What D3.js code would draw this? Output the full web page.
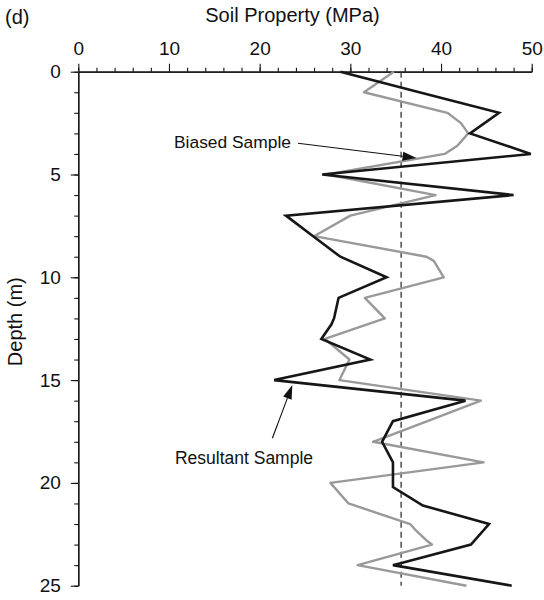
<!DOCTYPE html>
<html>
<head>
<meta charset="utf-8">
<script src="https://cdn.jsdelivr.net/npm/d3@7"></script>
<style>
  html, body { margin: 0; padding: 0; background: #fff; }
  svg { display: block; font-family: "Liberation Sans", Arial, Helvetica, sans-serif; }
</style>
</head>
<body>
<svg id="chart" width="544" height="600"></svg>
<script>
// Resultant sample profile (black): depth (m) and soil property (MPa)
const resultantDepth = [0, 1, 2, 3, 4, 5, 6, 7, 8, 9, 10, 11, 12, 12.3, 13, 14, 15, 16, 17, 18, 19, 20.2, 21.1, 22, 23, 24, 25];
const resultantValue = [28.9, 37.6, 46.4, 43.2, 49.9, 26.9, 48.0, 22.9, 25.9, 28.9, 34.0, 28.7, 28.2, 27.9, 26.8, 32.2, 21.6, 42.7, 34.7, 33.5, 34.7, 34.7, 38.0, 45.3, 43.3, 34.7, 47.8];

// Biased sample profile (grey)
const biasedDepth = [0, 1, 2, 2.5, 3, 3.6, 4, 5, 6, 7, 8, 9, 9.2, 10, 11, 12, 13, 14, 15, 16, 17, 18, 19, 20, 21, 22, 22.3, 22.8, 23, 24, 25];
const biasedValue = [34.8, 31.5, 40.7, 42.2, 43.0, 41.8, 40.4, 27.4, 39.4, 30.0, 26.0, 38.4, 39.2, 40.3, 31.6, 33.8, 27.2, 29.9, 28.8, 44.4, 38.5, 32.5, 44.7, 27.8, 29.8, 36.6, 37.2, 38.4, 39.0, 30.8, 42.8];

// Reference value drawn as the dashed vertical line
const referenceValue = 35.6;

// Axis ticks
const xMajorTicks = [0, 10, 20, 30, 40, 50];
const xMinorTicks = d3.range(0, 51, 2);
const yMajorTicks = [0, 5, 10, 15, 20, 25];
const yMinorTicks = d3.range(0, 26, 1);

const svg = d3.select("#chart");

const x = d3.scaleLinear().domain([0, 50]).range([78.3, 531.7]);
const y = d3.scaleLinear().domain([0, 25]).range([71.7, 585.7]);

// ---- axes ----
const xMinor = d3.axisTop(x).tickValues(xMinorTicks).tickSize(4).tickSizeOuter(0).tickFormat("");
const xMajor = d3.axisTop(x).tickValues(xMajorTicks).tickSize(8).tickSizeOuter(0).tickPadding(8.7).tickFormat(d3.format("d"));
const yMinor = d3.axisLeft(y).tickValues(yMinorTicks).tickSize(4).tickSizeOuter(0).tickFormat("");
const yMajor = d3.axisLeft(y).tickValues(yMajorTicks).tickSize(7.5).tickSizeOuter(0).tickPadding(10).tickFormat(d3.format("d"));

function styleAxis(g) {
  g.selectAll("path.domain").attr("stroke", "#111").attr("stroke-width", 1.2);
  g.selectAll(".tick line").attr("stroke", "#111").attr("stroke-width", 1.1);
  g.selectAll(".tick text").attr("fill", "#111").style("font-size", "19px")
    .style("font-family", "'Liberation Sans', Arial, sans-serif");
}

svg.append("g").attr("transform", `translate(0,${y(0)})`).call(xMinor).call(styleAxis);
svg.append("g").attr("transform", `translate(0,${y(0)})`).call(xMajor).call(styleAxis);
svg.append("g").attr("transform", `translate(${x(0)},0)`).call(yMinor).call(styleAxis);
svg.append("g").attr("transform", `translate(${x(0)},0)`).call(yMajor).call(styleAxis);

// ---- reference line ----
svg.append("line")
  .attr("x1", x(referenceValue)).attr("x2", x(referenceValue))
  .attr("y1", y(0)).attr("y2", y(25))
  .attr("stroke", "#333").attr("stroke-width", 1.3)
  .attr("stroke-dasharray", "6,4");

// ---- profiles ----
const line = d3.line().x(d => x(d[1])).y(d => y(d[0]));

svg.append("path")
  .datum(biasedDepth.map((d, i) => [d, biasedValue[i]]))
  .attr("d", line)
  .attr("fill", "none").attr("stroke", "#999").attr("stroke-width", 2.4)
  .attr("stroke-linejoin", "round");

svg.append("path")
  .datum(resultantDepth.map((d, i) => [d, resultantValue[i]]))
  .attr("d", line)
  .attr("fill", "none").attr("stroke", "#161616").attr("stroke-width", 2.6)
  .attr("stroke-linejoin", "miter");

// ---- annotations ----
function arrow(x1, y1, x2, y2) {
  const ang = Math.atan2(y2 - y1, x2 - x1);
  const len = 14, hw = 4.5;
  const bx = x2 - len * Math.cos(ang), by = y2 - len * Math.sin(ang);
  svg.append("line").attr("x1", x1).attr("y1", y1).attr("x2", bx).attr("y2", by)
    .attr("stroke", "#111").attr("stroke-width", 1.1);
  const px = -Math.sin(ang) * hw, py = Math.cos(ang) * hw;
  svg.append("path")
    .attr("d", `M${x2},${y2}L${bx + px},${by + py}L${bx - px},${by - py}Z`)
    .attr("fill", "#111");
}

svg.append("text").attr("x", 291).attr("y", 147.5).attr("text-anchor", "end")
  .style("font-size", "17.4px").attr("fill", "#111").text("Biased Sample");
arrow(298, 143.3, x(37.3), y(4.2));

svg.append("text").attr("x", 244).attr("y", 464).attr("text-anchor", "middle")
  .style("font-size", "17.5px").attr("fill", "#111").text("Resultant Sample");
arrow(x(21.4), y(17.83), x(23.6), y(15.24));

// ---- titles ----
svg.append("text").attr("x", 5).attr("y", 24)
  .style("font-size", "20px").attr("fill", "#111").text("(d)");
svg.append("text").attr("x", 292.5).attr("y", 22).attr("text-anchor", "middle")
  .style("font-size", "20px").attr("fill", "#111").text("Soil Property (MPa)");
svg.append("text")
  .attr("transform", `translate(21.5,${321.7}) rotate(-90)`)
  .attr("text-anchor", "middle")
  .style("font-size", "20px").attr("fill", "#111").text("Depth (m)");
</script>
</body>
</html>
